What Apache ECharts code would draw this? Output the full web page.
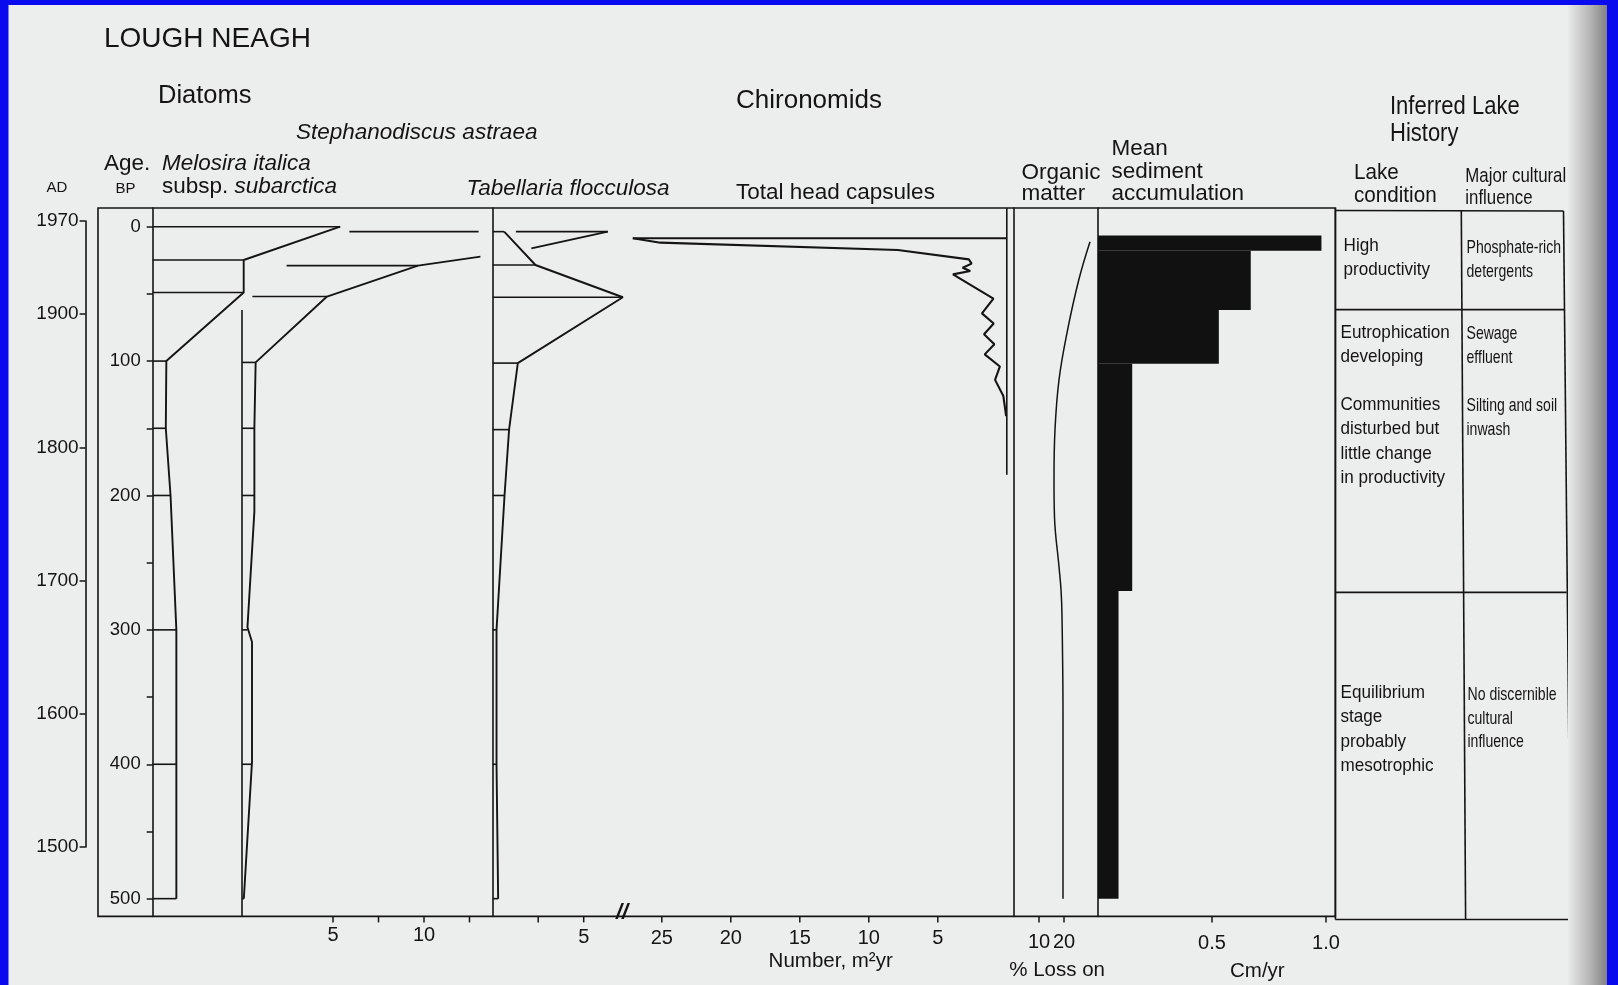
<!DOCTYPE html>
<html>
<head>
<meta charset="utf-8">
<title>Lough Neagh</title>
<script src="https://cdn.jsdelivr.net/npm/echarts@6.0.0/dist/echarts.min.js"></script>
<style>
html,body{margin:0;padding:0;background:#0a0aee;overflow:hidden;}
#chart{width:1618px;height:985px;}
</style>
</head>
<body>
<div id="chart"></div>
<script>
// ================= DATA =================
// Age axes
const adTicks  = [1500, 1600, 1700, 1800, 1900, 1970];
const bpTicks  = [0, 50, 100, 150, 200, 250, 300, 350, 400, 450, 500];
const bpLabels = [0, 100, 200, 300, 400, 500];

// Diatoms - profiles: [value, age BP]; sample levels: [age BP, from value, to value]
const melosiraProfile = [[10.3,0],[5.0,24.8],[5.0,49],[0.75,100],[0.72,150],[0.98,200],[1.3,300],[1.3,500]];
const melosiraSamples = [[0,0,10.3],[24.8,0,5.0],[49,0,5.0],[100,0,0.75],[150,0,0.72],[200,0,0.98],[300,0,1.3],[400,0,1.3],[500,0,1.3]];

const stephProfileA = [[20.1,3.7],[15.9,16.1]];
const stephProfileB = [[13.1,22.3],[9.67,29],[4.67,52],[0.75,101],[0.68,150],[0.68,212],[0.3,298],[0.55,309],[0.55,398],[0.1,500]];
const stephSamples  = [[3.7,5.9,13.0],[3.7,15.05,20.1],[29,2.45,9.67],[52,0.57,4.67],[101,0,0.75],[150,0,0.68],[200,0,0.68],[300,0,0.3],[400,0,0.55],[500,0,0.1]];
const stephBaseline = [62, 513.2];            // age range of the zero line
const stephTicks  = [5, 7.5, 10, 12.5];
const stephLabels = [5, 10];

const tabProfile = [[0.63,3.7],[2.35,28.5],[7.15,52.5],[1.38,101.5],[0.9,151],[0.65,200],[0.21,300],[0.21,400],[0.3,500]];
const tabSamples = [[3.7,0,0.63],[28.5,0,2.35],[52.5,0,7.15],[101.5,0,1.38],[151,0,0.9],[200,0,0.65],[300,0,0.21],[400,0,0.21],[500,0,0.3]];
const tabTicks  = [2.5, 5];
const tabLabels = [5];

// Chironomids - total head capsules (number m^-2 yr^-1)
const chiroProfile = [[27.1,8.6],[25.1,11.9],[7.9,17.3],[2.75,24.3],[2.55,27.5],[3.2,30.5],[2.65,33],[3.9,35.5],
  [0.97,53.5],[1.8,64.5],[0.95,72],[1.65,80],[0.9,87.5],[1.6,95],[0.5,104],[0.85,114],[0.25,126],[0.1,137],[0.05,141]];
const chiroSamples = [[8.6,0,27.1]];
const chiroBaselineEnd = 184.5;
const chiroTicks = [5, 10, 15, 20, 25];

// Organic matter (% loss on ignition)
const organicProfile = [[30.4,11.2],[25.9,39.7],[21.2,79],[18.0,114],[16.4,151],[16.0,188],[16.2,216],[18.0,253],[18.8,270],[19.2,290],[19.6,365],[19.6,500]];
const organicTicks = [10, 20];

// Mean sediment accumulation (cm/yr)
const sedTop    = [6.5, 18, 62, 102, 271];
const sedBottom = [18, 62, 102, 271, 500];
const sedRate   = [0.98, 0.67, 0.53, 0.15, 0.09];
const sedTicks  = [0.5, 1.0];

// Inferred lake history
const lakeCondition = [['High','productivity'],['Eutrophication','developing'],['Communities','disturbed but','little change','in productivity'],['Equilibrium','stage','probably','mesotrophic']];
const culturalInfluence = [['Phosphate-rich','detergents'],['Sewage','effluent'],['Silting and soil','inwash'],['No discernible','cultural','influence']];

// ================= LAYOUT =================
const FONT = "'Liberation Sans', Arial, Helvetica, sans-serif";
const INK = '#141414';
const T = 208, B = 916.4, H = B - T;
const BP_MIN = -13.9, BP_MAX = 513.2;
const PX_DIA = 18.2, PX_CHI = 13.8, PX_ORG = 2.5, PX_SED = 228;
const TICK_LEN = 6;

const G = {
  ad:    {left:85.6, top:221, width:1, height:626},
  mel:   {left:152.7, top:T, width:220, height:H},
  steph: {left:242, top:T, width:408, height:H},
  tab:   {left:492.7, top:T, width:137, height:H},
  chiro: {left:622, top:T, width:384.8, height:H},
  org:   {left:1014, top:T, width:84, height:H},
  sed:   {left:1098, top:T, width:237.4, height:H},
  frame: {left:98, top:T, width:1237.4, height:H}
};
const order = ['ad','mel','steph','tab','chiro','org','sed','frame'];
const gi = {}; order.forEach((k,i)=>gi[k]=i);

const lineSt = {color: INK, width: 1.6};
const grids = order.map(k => Object.assign({outerBoundsMode:'none', containLabel:false}, G[k],
  k === 'frame' ? {show:true, borderColor:INK, borderWidth:1.6, backgroundColor:'transparent'} : {show:false}));

function bottomAxis(k, max, labels, margin, inverse, fmt) {
  return {gridIndex: gi[k], type:'value', min:0, max:max, inverse:!!inverse, position:'bottom',
    axisLine:{show:false, onZero:false}, splitLine:{show:false}, axisTick:{show:false},
    axisLabel:{show:true, customValues:labels, margin:margin, fontSize:20, color:INK, fontFamily:FONT,
      formatter: fmt || (v => String(v))}};
}
function hiddenX(k, max) { return {gridIndex:gi[k], type:'value', min:0, max:max, show:false, axisLine:{onZero:false}}; }
function bpY(k, showLine) {
  return {gridIndex:gi[k], type:'value', inverse:true, min:BP_MIN, max:BP_MAX, show:showLine, position:'left',
    axisLine:{show:true, onZero:false, lineStyle:lineSt}, axisTick:{show:false}, axisLabel:{show:false}, splitLine:{show:false}};
}

const xAxes = [
  hiddenX('ad', 1),
  hiddenX('mel', G.mel.width / PX_DIA),
  bottomAxis('steph', G.steph.width / PX_DIA, stephLabels, 9),
  bottomAxis('tab', G.tab.width / PX_DIA, tabLabels, 11),
  bottomAxis('chiro', G.chiro.width / PX_CHI, chiroTicks, 12, true),
  bottomAxis('org', G.org.width / PX_ORG, organicTicks, 16),
  bottomAxis('sed', G.sed.width / PX_SED, sedTicks, 17, false, v => v.toFixed(1)),
  hiddenX('frame', 1)
];
const yAxes = [
  {gridIndex:gi.ad, type:'value', min:1500, max:1970, position:'left',
    axisLine:{show:true, onZero:false, lineStyle:lineSt}, splitLine:{show:false},
    axisTick:{show:true, customValues:adTicks, length:6, lineStyle:{color:INK, width:1.5}},
    axisLabel:{customValues:adTicks, margin:7, fontSize:19, color:INK, fontFamily:FONT, formatter: v => String(v)}},
  {gridIndex:gi.mel, type:'value', inverse:true, min:BP_MIN, max:BP_MAX, position:'left',
    axisLine:{show:true, onZero:false, lineStyle:lineSt}, splitLine:{show:false},
    axisTick:{show:true, customValues:bpTicks, length:6, lineStyle:{color:INK, width:1.5}},
    axisLabel:{customValues:bpLabels, margin:12, fontSize:18.5, color:INK, fontFamily:FONT, formatter: v => String(v)}},
  bpY('steph', false),
  bpY('tab', true),
  bpY('chiro', false),
  bpY('org', true),
  bpY('sed', true),
  {gridIndex:gi.frame, type:'value', min:0, max:1, show:false}
];

function prof(k, data, extra) {
  return Object.assign({type:'line', xAxisIndex:gi[k], yAxisIndex:gi[k], data:data, symbol:'none',
    showSymbol:false, lineStyle:{color:INK, width:1.9}, silent:true, animation:false, z:3, clip:false}, extra || {});
}
function segs(k, rows, w) {
  return {type:'custom', xAxisIndex:gi[k], yAxisIndex:gi[k], data:rows, silent:true, animation:false, z:3,
    renderItem: function (params, api) {
      const y = api.value(0), a = api.value(1), b = api.value(2);
      const p1 = api.coord([a, y]), p2 = api.coord([b, y]);
      return {type:'line', shape:{x1:p1[0], y1:p1[1], x2:p2[0], y2:p2[1]}, style:{stroke:INK, lineWidth:w || 1.6}};
    }};
}
// downward tick marks on the bottom edge of a panel, placed by the panel's x scale
function ticks(k, values) {
  return {type:'custom', xAxisIndex:gi[k], yAxisIndex:gi[k], data:values.map(v => [v, BP_MAX]), silent:true,
    animation:false, z:4, clip:false,
    renderItem: function (params, api) {
      const p = api.coord([api.value(0), api.value(1)]);
      return {type:'line', shape:{x1:p[0], y1:p[1], x2:p[0], y2:p[1] + TICK_LEN}, style:{stroke:INK, lineWidth:1.5}};
    }};
}

const series = [
  prof('mel', melosiraProfile), segs('mel', melosiraSamples),
  prof('steph', stephProfileA), prof('steph', stephProfileB), segs('steph', stephSamples),
  prof('steph', stephBaseline.map(v => [0, v]), {lineStyle:{color:INK, width:1.6}}),
  prof('tab', tabProfile), segs('tab', tabSamples),
  prof('chiro', chiroProfile, {lineStyle:{color:INK, width:2.1}}), segs('chiro', chiroSamples, 1.8),
  prof('chiro', [[0, BP_MIN], [0, chiroBaselineEnd]], {lineStyle:{color:INK, width:1.6}}),
  prof('org', organicProfile, {smooth:0.4, lineStyle:{color:INK, width:1.5}}),
  {type:'custom', xAxisIndex:gi.sed, yAxisIndex:gi.sed, silent:true, animation:false, z:2,
    data: sedTop.map((t, i) => [t, sedBottom[i], sedRate[i]]),
    renderItem: function (params, api) {
      const p0 = api.coord([0, api.value(0)]), p1 = api.coord([api.value(2), api.value(1)]);
      return {type:'rect', shape:{x:p0[0], y:p0[1], width:p1[0]-p0[0], height:p1[1]-p0[1]},
        style:{fill:'#111111'}};
    }},
  ticks('steph', stephTicks), ticks('tab', tabTicks), ticks('chiro', chiroTicks),
  ticks('org', organicTicks), ticks('sed', sedTicks)
];

// ================= TEXT & DECORATION =================
function label(text, x, y, size, o) {
  o = o || {};
  return {type:'text', x:x, y:y, scaleX:o.sx || 1, silent:true, z:10,
    style:{text:text, x:0, y:0, font:(o.italic ? 'italic ' : '') + (o.bold ? 'bold ' : '') + size + 'px ' + FONT,
      fill:INK, textAlign:o.align || 'left', align:o.align || 'left', textVerticalAlign:'middle', verticalAlign:'middle'}};
}
function ln(x1, y1, x2, y2, w) {
  return {type:'line', silent:true, z:10, shape:{x1:x1, y1:y1, x2:x2, y2:y2}, style:{stroke:INK, lineWidth:w || 1.6}};
}

const gfx = [
  // page edges
  {type:'rect', z:100, silent:true, shape:{x:1568, y:0, width:40, height:985},
    style:{fill:{type:'linear', x:0, y:0, x2:1, y2:0, colorStops:[{offset:0, color:'#e9ebea'},{offset:0.55, color:'#b4b5b4'},{offset:1, color:'#7e7f7e'}]}}},
  {type:'rect', z:101, silent:true, shape:{x:0, y:0, width:8.5, height:985}, style:{fill:'#0a0aee'}},
  {type:'rect', z:101, silent:true, shape:{x:0, y:0, width:1618, height:5}, style:{fill:'#0a0aee'}},
  {type:'rect', z:101, silent:true, shape:{x:1607, y:0, width:11, height:985}, style:{fill:'#0a0aee'}},

  // headings
  label('LOUGH NEAGH', 104, 39.5, 28),
  label('Diatoms', 158, 96, 25.5),
  label('Stephanodiscus astraea', 296, 133, 22.5, {italic:true}),
  label('Age.', 104, 164, 22.5),
  label('Melosira italica', 162, 164, 22.5, {italic:true}),
  label('AD', 46.4, 188, 15),
  label('BP', 115.6, 189, 15),
  label('subsp.', 162, 187, 22.5),
  label('subarctica', 234.5, 187, 22.5, {italic:true}),
  label('Tabellaria flocculosa', 466.5, 189, 22.5, {italic:true}),
  label('Chironomids', 736, 101, 26),
  label('Total head capsules', 736, 193, 22.5),
  label('Organic', 1021.6, 172.5, 22.5),
  label('matter', 1021.6, 193.5, 22.5),
  label('Mean', 1111.4, 148.6, 22.5),
  label('sediment', 1111.4, 171.3, 22.5),
  label('accumulation', 1111.4, 194, 22.5),
  label('Inferred Lake', 1390, 107.3, 25, {sx:0.88}),
  label('History', 1390, 134, 25, {sx:0.88}),
  label('Lake', 1354, 173.5, 21.5, {sx:0.96}),
  label('condition', 1354, 196, 21.5, {sx:0.96}),
  label('Major cultural', 1465.3, 176.5, 20.5, {sx:0.82}),
  label('influence', 1465.3, 198, 20.5, {sx:0.82}),

  // axis titles and break mark
  label('Number, m\u00B2yr', 830.7, 961.8, 20.5, {align:'center'}),
  label('% Loss on', 1009.3, 970, 20.5),
  label('ignition', 1009.3, 994, 20.5),
  label('Cm/yr', 1230, 971, 20.5),
  label('//', 622, 913, 22, {align:'center', bold:true, italic:true}),

  // lake history table
  ln(1335.4, 208, 1335.4, 919.5),
  ln(1335.4, 210.5, 1563.5, 211),
  ln(1461.3, 210.5, 1465.6, 919.5),
  ln(1563.5, 211, 1570.6, 919.5),
  ln(1335.4, 309.6, 1564.2, 309.6),
  ln(1335.4, 592.4, 1566.6, 592.4),
  ln(1335.4, 919.5, 1570.6, 919.5)
];

const condX = [1343.6, 1340.5, 1340.5, 1340.5], condY = [245.6, 332.3, 404.5, 692.5];
const cultX = [1466.5, 1466.5, 1466.5, 1467.5], cultY = [247.7, 333.3, 405.6, 694.5];
const LH = 24.4;
lakeCondition.forEach((lines, i) => lines.forEach((t, j) => gfx.push(label(t, condX[i], condY[i] + j * LH, 19, {sx:0.9}))));
culturalInfluence.forEach((lines, i) => lines.forEach((t, j) => gfx.push(label(t, cultX[i], cultY[i] + j * (i === 3 ? 23.8 : LH), 19, {sx:0.74}))));

const chart = echarts.init(document.getElementById('chart'), null, {renderer:'canvas', width:1618, height:985});
chart.setOption({
  animation:false,
  backgroundColor:'#eceeed',
  textStyle:{fontFamily:FONT},
  grid:grids,
  xAxis:xAxes,
  yAxis:yAxes,
  series:series,
  graphic:{elements:gfx}
});
</script>
</body>
</html>
